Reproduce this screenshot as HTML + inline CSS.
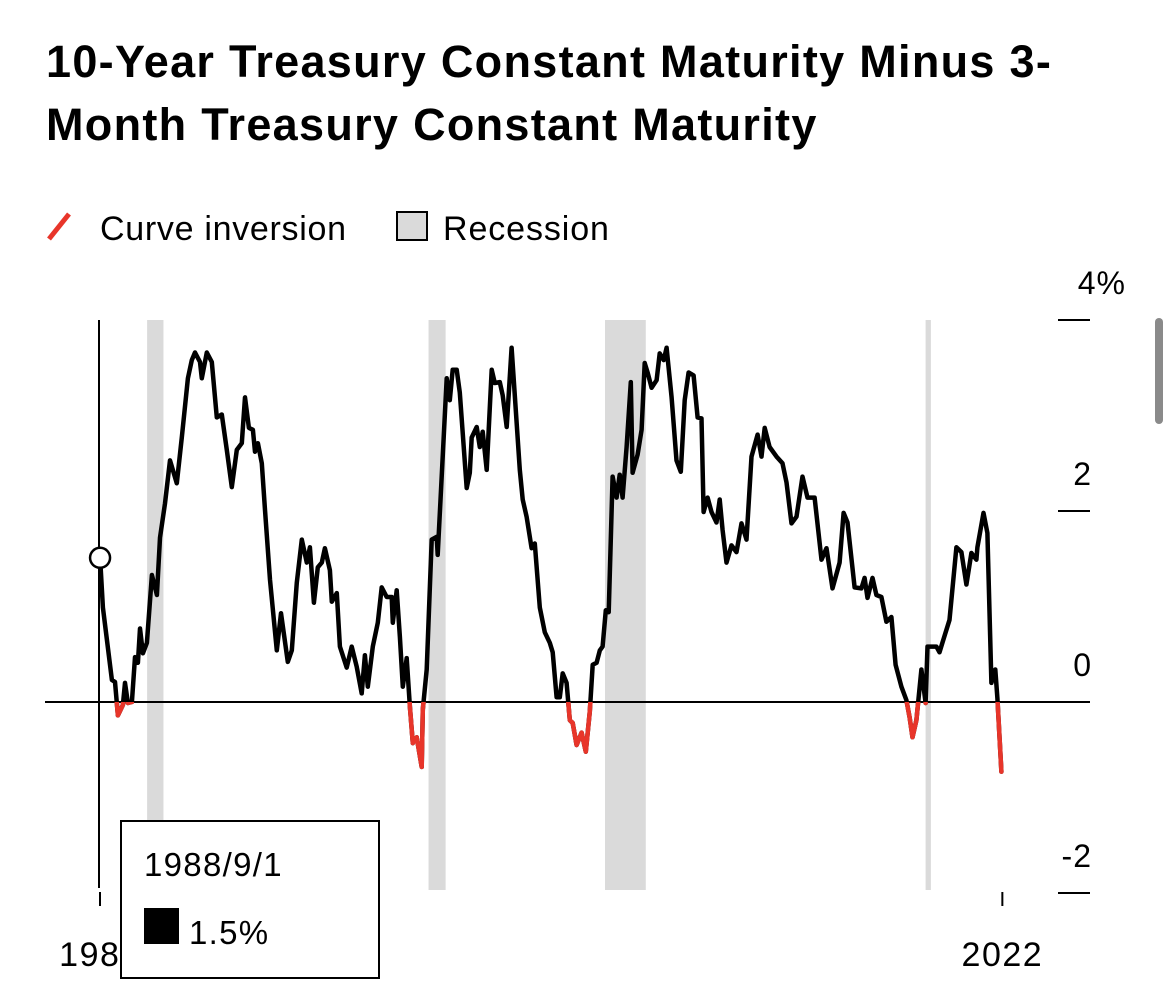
<!DOCTYPE html>
<html><head><meta charset="utf-8">
<style>
html,body{margin:0;padding:0;background:#fff;width:1170px;height:994px;overflow:hidden}
body{font-family:"Liberation Sans",sans-serif;color:#000;position:relative}
#title{position:absolute;left:46px;top:30px;width:1120px;font-size:45px;font-weight:bold;line-height:63px;letter-spacing:1.3px;white-space:nowrap}
svg{position:absolute;left:0;top:0}
</style></head><body>
<div id="title">10-Year Treasury Constant Maturity Minus 3-<br>Month Treasury Constant Maturity</div>
<svg id="chart" width="1170" height="994">
  <g>
    <line x1="49" y1="239" x2="69" y2="214" stroke="#e8352a" stroke-width="5"/>
    <text x="100" y="240" font-size="34" letter-spacing="0.7">Curve inversion</text>
    <rect x="397" y="212" width="30" height="28" fill="#dadada" stroke="#000" stroke-width="2"/>
    <text x="443" y="240" font-size="34" letter-spacing="0.9">Recession</text>
  </g>
  <g id="bands"></g>
  <g id="axes"></g>
  <g id="lines"></g>
  <rect x="1155" y="318" width="8" height="106" rx="4" fill="#8a8a8a"/>
</svg>
<script>
const years=[1988.71,1988.82,1989.16,1989.28,1989.39,1989.58,1989.66,1989.77,1989.92,1990.04,1990.15,1990.23,1990.34,1990.49,1990.68,1990.87,1990.99,1991.18,1991.37,1991.63,1991.82,1992.05,1992.20,1992.32,1992.51,1992.58,1992.77,1992.96,1993.15,1993.34,1993.53,1993.72,1993.91,1994.10,1994.22,1994.37,1994.52,1994.60,1994.71,1994.86,1994.98,1995.17,1995.43,1995.59,1995.85,1996.00,1996.19,1996.38,1996.57,1996.69,1996.84,1996.99,1997.14,1997.26,1997.45,1997.52,1997.71,1997.83,1998.09,1998.28,1998.47,1998.66,1998.78,1998.89,1999.08,1999.27,1999.42,1999.61,1999.80,1999.84,1999.99,2000.11,2000.22,2000.37,2000.49,2000.60,2000.75,2000.94,2000.98,2001.13,2001.32,2001.51,2001.55,2001.89,2002.01,2002.12,2002.27,2002.39,2002.65,2002.77,2002.84,2003.03,2003.15,2003.26,2003.41,2003.60,2003.72,2003.91,2004.02,2004.17,2004.36,2004.67,2004.78,2004.93,2005.12,2005.24,2005.43,2005.62,2005.81,2005.92,2006.07,2006.19,2006.30,2006.45,2006.57,2006.68,2006.83,2007.02,2007.18,2007.33,2007.44,2007.59,2007.71,2007.82,2007.94,2008.05,2008.20,2008.35,2008.47,2008.58,2008.73,2008.89,2008.96,2009.15,2009.30,2009.42,2009.53,2009.68,2009.87,2009.99,2010.14,2010.25,2010.44,2010.63,2010.79,2010.94,2011.09,2011.28,2011.43,2011.58,2011.66,2011.81,2011.96,2012.15,2012.27,2012.38,2012.53,2012.72,2012.91,2013.10,2013.29,2013.48,2013.71,2013.86,2013.98,2014.17,2014.43,2014.66,2014.81,2015.00,2015.19,2015.42,2015.61,2015.88,2016.14,2016.33,2016.56,2016.83,2016.98,2017.13,2017.40,2017.66,2017.78,2017.89,2018.08,2018.23,2018.42,2018.61,2018.80,2018.96,2019.18,2019.37,2019.49,2019.60,2019.75,2019.94,2020.10,2020.17,2020.51,2020.63,2020.74,2021.01,2021.27,2021.46,2021.65,2021.84,2022.03,2022.07,2022.30,2022.45,2022.60,2022.75,2022.83,2022.98];
const spread=[1.51,0.99,0.23,0.21,-0.14,-0.03,0.20,-0.01,0.00,0.47,0.41,0.77,0.51,0.62,1.33,1.12,1.72,2.08,2.53,2.29,2.77,3.39,3.58,3.66,3.56,3.39,3.66,3.56,2.98,3.01,2.64,2.25,2.64,2.71,3.19,2.87,2.85,2.62,2.71,2.50,2.01,1.28,0.54,0.93,0.42,0.54,1.25,1.70,1.46,1.62,1.04,1.41,1.46,1.61,1.38,1.05,1.14,0.58,0.36,0.58,0.37,0.09,0.49,0.16,0.58,0.83,1.20,1.10,1.10,0.83,1.17,0.68,0.16,0.46,-0.05,-0.43,-0.37,-0.68,-0.08,0.34,1.70,1.73,1.54,3.39,3.16,3.48,3.48,3.24,2.24,2.40,2.77,2.88,2.67,2.83,2.43,3.48,3.34,3.35,3.21,2.88,3.71,2.43,2.12,1.94,1.61,1.66,0.99,0.73,0.62,0.52,0.05,0.05,0.30,0.20,-0.19,-0.22,-0.45,-0.32,-0.52,-0.10,0.39,0.41,0.54,0.58,0.96,0.94,2.36,2.14,2.38,2.14,2.67,3.35,2.40,2.59,2.85,3.55,3.45,3.29,3.37,3.65,3.58,3.71,3.19,2.53,2.41,3.16,3.45,3.42,2.98,2.97,1.99,2.14,1.99,1.88,2.12,1.80,1.46,1.64,1.57,1.87,1.70,2.57,2.80,2.57,2.87,2.67,2.57,2.50,2.30,1.87,1.94,2.36,2.14,2.14,1.49,1.61,1.19,1.46,1.98,1.88,1.20,1.19,1.30,1.09,1.30,1.12,1.10,0.84,0.89,0.39,0.16,0.02,-0.16,-0.37,-0.19,0.34,-0.01,0.58,0.58,0.52,0.62,0.86,1.62,1.57,1.23,1.56,1.49,1.62,1.98,1.77,0.20,0.34,0.04,-0.73];
const recessionStart=[1990.50,2001.20,2007.91,2020.10];
const recessionEnd=[1991.12,2001.85,2009.46,2020.30];
const yTicks=[4,2,0,-2];
const yTickLabels=["4%","2","0","-2"];
const xTickYears=[1988.67,2022.98];
const xTickLabels=["1988","2022"];

const NS="http://www.w3.org/2000/svg";
const X=v=>99+(v-1988.67)*26.3;
const Y=v=>702-v*95.5;
function mk(tag,attrs,parent){const e=document.createElementNS(NS,tag);for(const k in attrs)e.setAttribute(k,attrs[k]);parent.appendChild(e);return e;}
const bands=document.getElementById('bands'),axes=document.getElementById('axes'),lines=document.getElementById('lines'),svg=document.getElementById('chart');

recessionStart.forEach((s,i)=>{
  const r=mk('rect',{x:X(s),y:320,width:Math.max(5,X(recessionEnd[i])-X(s)),height:570,fill:'#dadada'},bands);
  
  
});

const vline=mk('line',{x1:99,y1:320,x2:99,y2:888,stroke:'#000','stroke-width':2},axes);



yTicks.forEach((t,i)=>{
  const tk=mk('line',{x1:1058,y1:Y(t),x2:1090,y2:Y(t),stroke:'#000','stroke-width':2},axes);
  
  
  const tx=mk('text',{x:1092,y:Y(t)-26,'font-size':32,'letter-spacing':1,'text-anchor':'end'},axes);
  if(i===0){tx.setAttribute('x',1126);}
  tx.textContent=yTickLabels[i];
  
  
});
const zl=mk('line',{x1:45,y1:Y(0),x2:1090,y2:Y(0),stroke:'#000','stroke-width':2},axes);



xTickYears.forEach((t,i)=>{
  const tk=mk('line',{x1:X(t)+1,y1:892,x2:X(t)+1,y2:906,stroke:'#000','stroke-width':2},axes);
  
  
  const tx=mk('text',{x:X(t)+1,y:966,'font-size':34,'letter-spacing':1.5,'text-anchor':'middle'},axes);
  tx.textContent=xTickLabels[i];
  
  
});

const defs=mk('defs',{},svg);
const cp=mk('clipPath',{id:'neg'},defs);
mk('rect',{x:0,y:Y(0),width:1170,height:400},cp);
const d=years.map((yr,i)=>(i?'L':'M')+X(yr).toFixed(1)+','+Y(spread[i]).toFixed(1)).join(' ');
const p1=mk('path',{d:d,fill:'none',stroke:'#000','stroke-width':4.5,'stroke-linejoin':'round','stroke-linecap':'round'},lines);


const p2=mk('path',{d:d,fill:'none',stroke:'#e8352a','stroke-width':4.5,'stroke-linejoin':'round','stroke-linecap':'round','clip-path':'url(#neg)'},lines);



const c=mk('circle',{cx:X(years[0]),cy:Y(spread[0]),r:10,fill:'#fff',stroke:'#000','stroke-width':2.5},lines);



const tt=mk('g',{},svg);


mk('rect',{x:121,y:821,width:258,height:157,fill:'#fff',stroke:'#000','stroke-width':2},tt);
const t1=mk('text',{x:144,y:876,'font-size':33,'letter-spacing':1.3},tt);t1.textContent='1988/9/1';


mk('rect',{x:144,y:908,width:35,height:36,fill:'#000'},tt);
const t2=mk('text',{x:189,y:944,'font-size':33,'letter-spacing':1.3},tt);t2.textContent='1.5%';


</script>
</body></html>
